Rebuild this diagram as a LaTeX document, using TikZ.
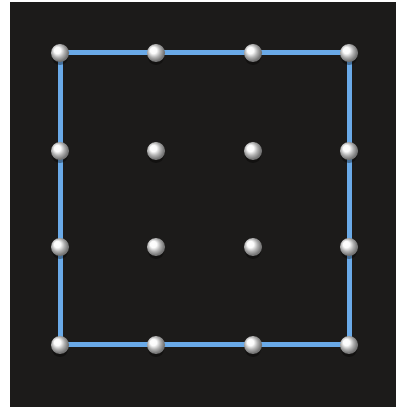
\documentclass[tikz,border=0pt]{standalone}
\usepackage{tikz}
\usetikzlibrary{positioning}
\definecolor{board}{HTML}{1C1B1A}
\definecolor{wire}{HTML}{6AAAE8}

\begin{document}
\begin{tikzpicture}[x=1pt, y=1pt,
    peg/.style={circle, inner sep=0pt, minimum size=18pt, shading=ball, ball color=white!96!gray},
    band/.style={wire, line width=5pt}]
            % 背景
            \useasboundingbox (0,0) rectangle (396,407);
            \fill[white] (0,0) rectangle (396,407);
            \fill[board] (10,0) rectangle (396,405);

            % 钉子位置
            \foreach \i/\x in {1/60, 2/156, 3/253, 4/349} {
                \foreach \j/\y in {1/354, 2/256, 3/160, 4/62} {
                    \coordinate (c-\i-\j) at (\x,\y);
                }
            }

            % 橡皮筋
            \draw[band] (c-1-1) -- (c-4-1) -- (c-4-4) -- (c-1-4) -- cycle;

            % 钉子
            \foreach \i in {1,...,4} {
                \foreach \j in {1,...,4} {
                    \fill[black, opacity=0.35] ([yshift=-4pt]c-\i-\j) circle (8pt);
                    \node[peg] (p-\i-\j) at (c-\i-\j) {};
                }
            }
        \end{tikzpicture}
\end{document}
